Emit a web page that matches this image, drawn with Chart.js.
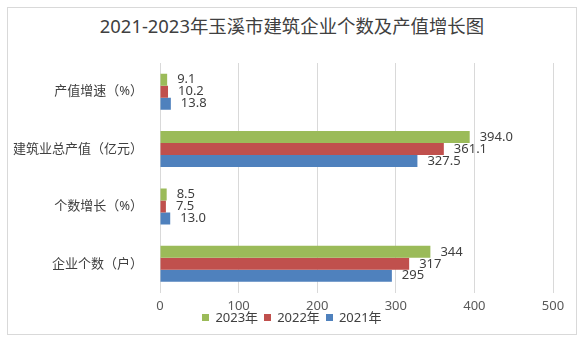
<!DOCTYPE html>
<html>
<head>
<meta charset="utf-8">
<script src="https://cdn.jsdelivr.net/npm/chart.js@4.4.1/dist/chart.umd.min.js"></script>
<style>
    body { margin: 0; background: #fff; }
    #wrap {
        position: relative; width: 583px; height: 340px;
        font-family: "Noto Sans", "Noto Sans CJK SC", sans-serif; color: #404040;
    }
    #frame {
        position: absolute; left: 7px; top: 7px; width: 570px; height: 328px;
        box-sizing: border-box; border: 1px solid #d9d9d9;
    }
    #chart { position: absolute; left: 0; top: 0; }
    #title {
        position: absolute; left: 7px; width: 570px; top: 15px;
        text-align: center; font-size: 18.4px; line-height: 22px;
    }
    #legend {
        position: absolute; left: 7px; width: 570px; top: 311px;
        display: flex; justify-content: center; gap: 6px;
        font-size: 13px; line-height: 13px;
    }
    .legend-row { display: flex; align-items: center; gap: 6px; }
    .legend-color { width: 7px; height: 7px; }
</style>
</head>
<body>
<div id="wrap">
    <div id="frame"></div>
    <div id="title">2021-2023年玉溪市建筑企业个数及产值增长图</div>
    <canvas id="chart" width="583" height="340"></canvas>
    <div id="legend"></div>
</div>
<script>
const categories = ["产值增速（%）", "建筑业总产值（亿元）", "个数增长（%）", "企业个数（户）"];
const decimals = [1, 1, 1, 0];
const years = ["2023年", "2022年", "2021年"];
const values2023 = [9.1, 394.0, 8.5, 344];
const values2022 = [10.2, 361.1, 7.5, 317];
const values2021 = [13.8, 327.5, 13.0, 295];

const colors = {
    "2023年": "#9BBB59",
    "2022年": "#C0504D",
    "2021年": "#4F81BD"
};

const FONT = '"Noto Sans", "Noto Sans CJK SC", sans-serif';

/* value labels at the end of each bar */
const barLabels = {
    id: "barLabels",
    afterDatasetsDraw(chart) {
        const ctx = chart.ctx;
        ctx.save();
        ctx.font = "13px " + FONT;
        ctx.fillStyle = "#404040";
        ctx.textAlign = "left";
        ctx.textBaseline = "middle";
        chart.data.datasets.forEach((ds, d) => {
            chart.getDatasetMeta(d).data.forEach((bar, i) => {
                ctx.fillText(ds.data[i].toFixed(decimals[i]), bar.x + 10, bar.y);
            });
        });
        ctx.restore();
    }
};

const series = [values2023, values2022, values2021];

const chart = new Chart(document.getElementById("chart"), {
    type: "bar",
    data: {
        labels: categories,
        datasets: years.map((y, i) => ({
            label: y,
            data: series[i],
            backgroundColor: colors[y],
            borderWidth: 0,
            categoryPercentage: 0.626,
            barPercentage: 1.0
        }))
    },
    options: {
        indexAxis: "y",
        responsive: false,
        animation: false,
        devicePixelRatio: 1,
        layout: { padding: { top: 63, left: 0, right: 30, bottom: 19.9 } },
        scales: {
            x: {
                min: 0,
                max: 500,
                ticks: {
                    stepSize: 100,
                    padding: 6,
                    color: "#595959",
                    font: { size: 13, family: FONT }
                },
                grid: { color: "#d9d9d9", drawTicks: false },
                border: { display: false }
            },
            y: {
                ticks: {
                    padding: 17,
                    color: "#404040",
                    font: { size: 13, family: FONT }
                },
                grid: { display: false, drawTicks: false },
                border: { display: true, color: "#d9d9d9" },
                afterFit(scale) { scale.width = 160; }
            }
        },
        plugins: {
            legend: { display: false },
            tooltip: { enabled: false }
        }
    },
    plugins: [barLabels]
});

/* LEGEND */
chart.data.datasets.forEach(ds => {
    legend.innerHTML += `
    <div class="legend-row">
        <div class="legend-color" style="background:${ds.backgroundColor}"></div>
        ${ds.label}
    </div>`;
});
</script>
</body>
</html>
